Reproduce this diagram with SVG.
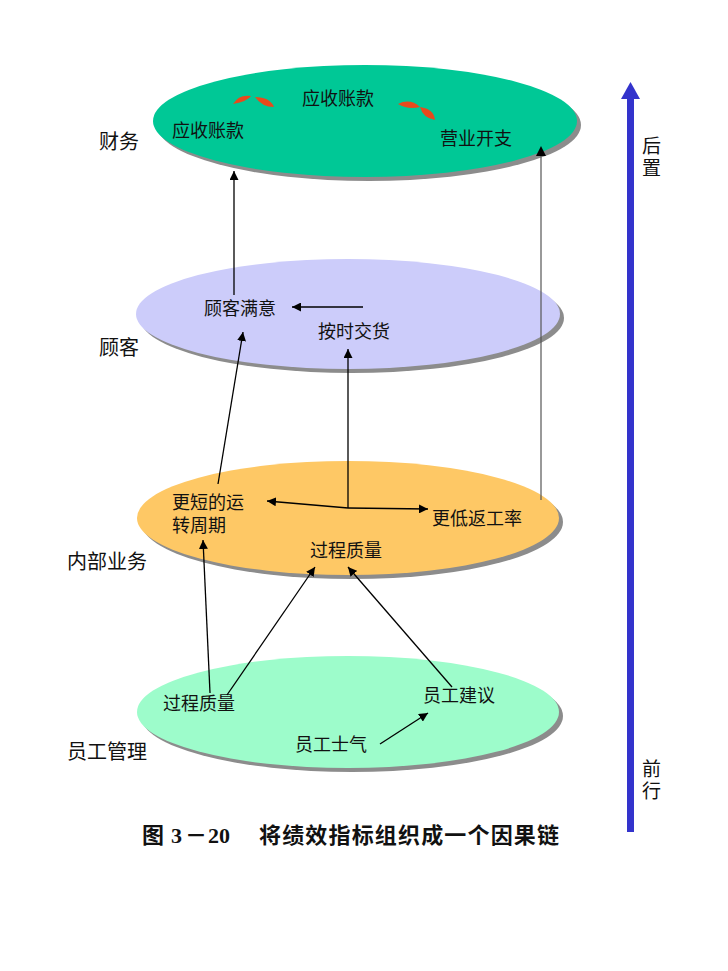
<svg xmlns="http://www.w3.org/2000/svg" width="728" height="971" viewBox="0 0 728 971">
<defs>
<marker id="ah" viewBox="0 0 10 10" refX="10" refY="5" markerWidth="9" markerHeight="9" markerUnits="userSpaceOnUse" orient="auto">
<path d="M0,0 L10,5 L0,10 Z" fill="#000"/>
</marker>
</defs>
<style>
text{font-family:"Liberation Serif","Noto Sans CJK SC",serif;fill:#111;}
.t{font-size:18px;}
.lab{font-size:20px;}
.shadow{fill:#8c8c8c;}
.c{stroke:#000;stroke-width:1.3;fill:none;marker-end:url(#ah);}
.sw{fill:#e84a1c;}
.title{font-size:22px;font-weight:bold;}
</style>
<rect width="728" height="971" fill="#fff"/>

<g id="layer-finance">
<ellipse class="shadow" cx="369" cy="125" rx="212" ry="56"/>
<ellipse cx="365" cy="121" rx="212" ry="56" fill="#00c896"/>
<text class="t" x="302" y="105">应收账款</text>
<text class="t" x="172" y="137">应收账款</text>
<text class="t" x="440" y="145">营业开支</text>
<path class="sw" d="M233,104 Q239,94 251,96 Q248,101 233,104 Z"/>
<path class="sw" d="M255,97 Q270,97 274,107 Q262,107 255,97 Z"/>
<path class="sw" d="M398,104 Q410,98 420,107 Q408,110 398,104 Z"/>
<path class="sw" d="M420,107 Q434,109 435,120 Q423,118 420,107 Z"/>
</g>

<g id="layer-customer">
<ellipse class="shadow" cx="352" cy="318" rx="212" ry="55"/>
<ellipse cx="348" cy="314" rx="212" ry="55" fill="#ccccfa"/>
<text class="t" x="204" y="315">顾客满意</text>
<text class="t" x="318" y="338">按时交货</text>
</g>

<g id="layer-internal">
<ellipse class="shadow" cx="352" cy="522" rx="211" ry="57"/>
<ellipse cx="348" cy="518" rx="211" ry="57" fill="#fec865"/>
<text class="t" x="172" y="509">更短的运</text>
<text class="t" x="172" y="532">转周期</text>
<text class="t" x="432" y="525">更低返工率</text>
<text class="t" x="310" y="557">过程质量</text>
</g>

<g id="layer-staff">
<ellipse class="shadow" cx="352" cy="716" rx="211" ry="56"/>
<ellipse cx="348" cy="712" rx="211" ry="56" fill="#9dfccb"/>
<text class="t" x="163" y="710">过程质量</text>
<text class="t" x="423" y="702">员工建议</text>
<text class="t" x="295" y="751">员工士气</text>
</g>

<g id="labels">
<text class="lab" x="99" y="149">财务</text>
<text class="lab" x="99" y="355">顾客</text>
<text class="lab" x="67" y="569">内部业务</text>
<text class="lab" x="67" y="759">员工管理</text>
</g>

<g id="connectors">
<line class="c" x1="234" y1="295" x2="234" y2="171"/>
<line x1="541" y1="500" x2="541" y2="156" stroke="#555" stroke-width="1.2"/>
<path d="M536,156 L541,146 L546,156 Z" fill="#000"/>
<line class="c" x1="363" y1="307" x2="292" y2="307"/>
<line class="c" x1="218" y1="484" x2="243" y2="332"/>
<line class="c" x1="348" y1="508" x2="348" y2="349"/>
<line class="c" x1="348" y1="508" x2="267" y2="501"/>
<line class="c" x1="348" y1="508" x2="428" y2="509"/>
<line class="c" x1="210" y1="693" x2="203" y2="540"/>
<line class="c" x1="227" y1="695" x2="315" y2="567"/>
<line class="c" x1="452" y1="687" x2="348" y2="567"/>
<line class="c" x1="380" y1="744" x2="428" y2="713"/>
</g>

<g id="direction">
<rect x="627" y="96" width="7" height="736" fill="#3333cc"/>
<path d="M621,99 L630.5,82 L640,99 Z" fill="#3333cc"/>
<text class="lab" x="642" y="153" style="font-size:19px">后</text>
<text class="lab" x="642" y="175" style="font-size:19px">置</text>
<text class="lab" x="642" y="776" style="font-size:19px">前</text>
<text class="lab" x="642" y="798" style="font-size:19px">行</text>
</g>

<g id="caption">
<text class="title" y="843"><tspan x="142">图</tspan><tspan x="171">3</tspan><tspan x="185">－</tspan><tspan x="208">20</tspan><tspan x="259" textLength="300" lengthAdjust="spacing">将绩效指标组织成一个因果链</tspan></text>
</g>
</svg>
